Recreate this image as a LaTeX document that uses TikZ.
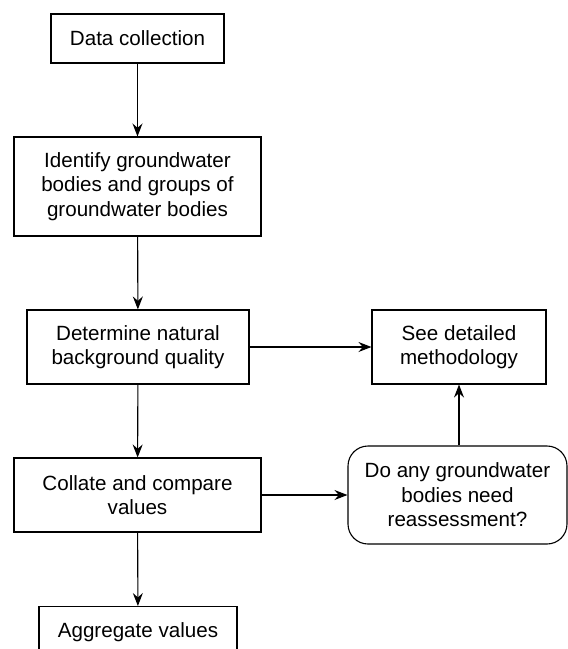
\documentclass[tikz,border=0pt]{standalone}
\usepackage{fontspec}
\setmainfont{Liberation Sans}
\usepackage{tikz}
\usetikzlibrary{arrows.meta}

\begin{document}
\begin{tikzpicture}[x=0.5pt,y=-0.5pt,line width=0.55pt,
    box/.style={draw,inner sep=0pt,align=center,font=\fontsize{10.3}{12.2}\selectfont},
    arr/.style={-{Stealth[length=6.5pt,width=5pt,inset=2.2pt]}}]
      \useasboundingbox (0,0) rectangle (568,649);
      \clip (0,0) rectangle (568,649);

      \node[box,minimum width=86.5pt,minimum height=24.5pt] (data) at (137.5,38.5) {Data collection};
      \node[box,minimum width=123.5pt,minimum height=49.5pt] (ident) at (137.5,186.5) {Identify groundwater\\bodies and groups of\\groundwater bodies};
      \node[box,minimum width=111pt,minimum height=37pt] (natural) at (138,347) {Determine natural\\background quality};
      \node[box,minimum width=123.5pt,minimum height=37pt] (collate) at (137.5,495) {Collate and compare\\values};
      % bottom box runs off the page
      \node[box,minimum width=99pt,minimum height=26pt,anchor=north] (aggr) at (138,606) {Aggregate values};

      \node[box,minimum width=87pt,minimum height=37pt] (method) at (459,347) {See detailed\\methodology};
      \node[box,rounded corners=10pt,minimum width=109.5pt,minimum height=49pt] (reass) at (457.5,495) {Do any groundwater\\bodies need\\reassessment?};

      \draw[arr] (data) -- (ident);
      \draw[arr] (ident) -- (natural);
      \draw[arr] (natural) -- (collate);
      \draw[arr] (collate) -- (aggr);
      \draw[arr] (natural) -- (method);
      \draw[arr] (collate) -- (reass);
      \draw[arr] (reass.north -| method.south) -- (method.south);
    \end{tikzpicture}
\end{document}
